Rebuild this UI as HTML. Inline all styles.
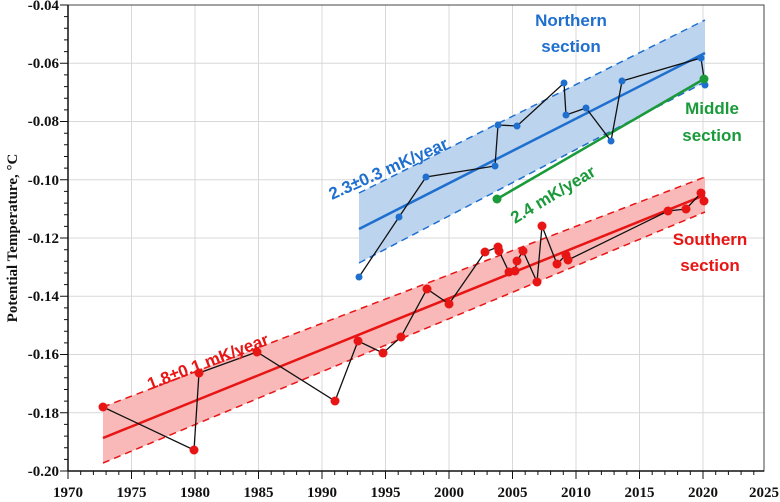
<!DOCTYPE html>
<html><head><meta charset="utf-8"><style>
html,body{margin:0;padding:0;background:#fff;}
svg{display:block;}
.t{font-family:"Liberation Serif",serif;font-weight:bold;font-size:15px;fill:#111;}
.l{font-family:"Liberation Sans",sans-serif;font-weight:bold;font-size:17px;}
</style></head><body>
<svg width="780" height="502" viewBox="0 0 780 502" xmlns="http://www.w3.org/2000/svg">
<g stroke="#d8d8d8" stroke-width="1">
<line x1="131.5" y1="5" x2="131.5" y2="471"/><line x1="195" y1="5" x2="195" y2="471"/><line x1="258.5" y1="5" x2="258.5" y2="471"/><line x1="322" y1="5" x2="322" y2="471"/><line x1="385.5" y1="5" x2="385.5" y2="471"/><line x1="449" y1="5" x2="449" y2="471"/><line x1="512.5" y1="5" x2="512.5" y2="471"/><line x1="576" y1="5" x2="576" y2="471"/><line x1="639.5" y1="5" x2="639.5" y2="471"/><line x1="703" y1="5" x2="703" y2="471"/>
<line x1="68" y1="63.3" x2="764" y2="63.3"/><line x1="68" y1="121.5" x2="764" y2="121.5"/><line x1="68" y1="179.8" x2="764" y2="179.8"/><line x1="68" y1="238" x2="764" y2="238"/><line x1="68" y1="296.3" x2="764" y2="296.3"/><line x1="68" y1="354.5" x2="764" y2="354.5"/><line x1="68" y1="412.8" x2="764" y2="412.8"/>
</g>
<rect x="68" y="5" width="696" height="466" fill="none" stroke="#444" stroke-width="1"/>
<polygon points="103,407 705,177 705,212 103,463" fill="#f9b9b9"/>
<polygon points="359,193 705,20 705,82 359,263" fill="#bcd4ee"/>
<g stroke-width="1.5" stroke-dasharray="7,5" fill="none">
<line x1="103" y1="407" x2="705" y2="177" stroke="#e81515"/>
<line x1="103" y1="463" x2="705" y2="212" stroke="#e81515"/>
<line x1="359" y1="193" x2="705" y2="20" stroke="#1f6fcf"/>
<line x1="359" y1="263" x2="705" y2="82" stroke="#1f6fcf"/>
</g>
<line x1="103" y1="438" x2="705" y2="195" stroke="#e81515" stroke-width="2.5"/>
<line x1="359" y1="229" x2="705" y2="53" stroke="#1f6fcf" stroke-width="2.5"/>
<line x1="497" y1="199" x2="704" y2="79" stroke="#1a9a3a" stroke-width="2.5"/>
<polyline fill="none" stroke="#111" stroke-width="1.3" points="103,407 194,450 199,373 257,352 335,401 358,341 383,353 401,337 427,289 449,304 485,252 498,247 499,251 509,272 515,271 517,261 523,251 537,282 542,226 557,264 566,255 568,260 668,211 686,209 701,193 704,201"/>
<polyline fill="none" stroke="#111" stroke-width="1.3" points="359,277 399,217 426,177 495,166 498,125 517,126 564,83 566,115 586,108 611,141 622,81 701,58 705,85"/>
<g fill="#e81515">
<circle cx="103" cy="407" r="4.5"/><circle cx="194" cy="450" r="4.5"/><circle cx="199" cy="373" r="4.5"/><circle cx="257" cy="352" r="4.5"/><circle cx="335" cy="401" r="4.5"/><circle cx="358" cy="341" r="4.5"/><circle cx="383" cy="353" r="4.5"/><circle cx="401" cy="337" r="4.5"/><circle cx="427" cy="289" r="4.5"/><circle cx="449" cy="304" r="4.5"/><circle cx="485" cy="252" r="4.5"/><circle cx="498" cy="247" r="4.5"/><circle cx="499" cy="251" r="4.5"/><circle cx="509" cy="272" r="4.5"/><circle cx="515" cy="271" r="4.5"/><circle cx="517" cy="261" r="4.5"/><circle cx="523" cy="251" r="4.5"/><circle cx="537" cy="282" r="4.5"/><circle cx="542" cy="226" r="4.5"/><circle cx="557" cy="264" r="4.5"/><circle cx="566" cy="255" r="4.5"/><circle cx="568" cy="260" r="4.5"/><circle cx="668" cy="211" r="4.5"/><circle cx="686" cy="209" r="4.5"/><circle cx="701" cy="193" r="4.5"/><circle cx="704" cy="201" r="4.5"/>
</g>
<g fill="#1f6fcf">
<circle cx="359" cy="277" r="3.5"/><circle cx="399" cy="217" r="3.5"/><circle cx="426" cy="177" r="3.5"/><circle cx="495" cy="166" r="3.5"/><circle cx="498" cy="125" r="3.5"/><circle cx="517" cy="126" r="3.5"/><circle cx="564" cy="83" r="3.5"/><circle cx="566" cy="115" r="3.5"/><circle cx="586" cy="108" r="3.5"/><circle cx="611" cy="141" r="3.5"/><circle cx="622" cy="81" r="3.5"/><circle cx="701" cy="58" r="3.5"/><circle cx="705" cy="85" r="3.5"/>
</g>
<g fill="#1a9a3a"><circle cx="497" cy="199" r="4.5"/><circle cx="704" cy="79" r="4.5"/></g>
<text class="l" fill="#1f6fcf" x="571" y="26" text-anchor="middle">Northern</text>
<text class="l" fill="#1f6fcf" x="571" y="52" text-anchor="middle">section</text>
<text class="l" fill="#1a9a3a" x="712" y="114" text-anchor="middle">Middle</text>
<text class="l" fill="#1a9a3a" x="712" y="141" text-anchor="middle">section</text>
<text class="l" fill="#e81515" x="710" y="245" text-anchor="middle">Southern</text>
<text class="l" fill="#e81515" x="710" y="271" text-anchor="middle">section</text>
<text class="l" fill="#1f6fcf" transform="translate(332,200) rotate(-24)">2.3±0.3 mK/year</text>
<text class="l" fill="#1a9a3a" transform="translate(515,224) rotate(-31)">2.4 mK/year</text>
<text class="l" fill="#e81515" transform="translate(150,390) rotate(-21)">1.8±0.1 mK/year</text>
<g stroke="#111" stroke-width="1.5">
<line x1="68" y1="471" x2="764" y2="471"/><line x1="68" y1="5" x2="68" y2="471"/>
</g>
<g class="t" text-anchor="middle">
<text x="68" y="497">1970</text><text x="131.5" y="497">1975</text><text x="195" y="497">1980</text><text x="258.5" y="497">1985</text><text x="322" y="497">1990</text><text x="385.5" y="497">1995</text><text x="449" y="497">2000</text><text x="512.5" y="497">2005</text><text x="576" y="497">2010</text><text x="639.5" y="497">2015</text><text x="703" y="497">2020</text><text x="764" y="497">2025</text>
</g>
<g class="t" text-anchor="end">
<text x="59" y="10">-0.04</text><text x="59" y="68">-0.06</text><text x="59" y="126">-0.08</text><text x="59" y="185">-0.10</text><text x="59" y="243">-0.12</text><text x="59" y="301">-0.14</text><text x="59" y="359">-0.16</text><text x="59" y="418">-0.18</text><text x="59" y="476">-0.20</text>
</g>
<text class="t" transform="translate(17,238) rotate(-90)" text-anchor="middle">Potential Temperature, °C</text>
<g stroke="#111" stroke-width="1">
<path d="M68,471v8M80.7,471v4M93.4,471v4M106.1,471v4M118.8,471v4M131.5,471v8M144.2,471v4M156.9,471v4M169.6,471v4M182.3,471v4M195,471v8M207.7,471v4M220.4,471v4M233.1,471v4M245.8,471v4M258.5,471v8M271.2,471v4M283.9,471v4M296.6,471v4M309.3,471v4M322,471v8M334.7,471v4M347.4,471v4M360.1,471v4M372.8,471v4M385.5,471v8M398.2,471v4M410.9,471v4M423.6,471v4M436.3,471v4M449,471v8M461.7,471v4M474.4,471v4M487.1,471v4M499.8,471v4M512.5,471v8M525.2,471v4M537.9,471v4M550.6,471v4M563.3,471v4M576,471v8M588.7,471v4M601.4,471v4M614.1,471v4M626.8,471v4M639.5,471v8M652.2,471v4M664.9,471v4M677.6,471v4M690.3,471v4M703,471v8M715.7,471v4M728.4,471v4M741.1,471v4M753.8,471v4"/>
<path d="M60,5h8M64,16.6h4M64,28.3h4M64,39.9h4M64,51.6h4M60,63.3h8M64,74.9h4M64,86.6h4M64,98.2h4M64,109.9h4M60,121.5h8M64,133.2h4M64,144.8h4M64,156.5h4M64,168.1h4M60,179.8h8M64,191.4h4M64,203.1h4M64,214.7h4M64,226.4h4M60,238h8M64,249.7h4M64,261.3h4M64,273h4M64,284.6h4M60,296.3h8M64,307.9h4M64,319.6h4M64,331.2h4M64,342.9h4M60,354.5h8M64,366.2h4M64,377.8h4M64,389.5h4M64,401.1h4M60,412.8h8M64,424.4h4M64,436.1h4M64,447.7h4M64,459.4h4M60,471h8"/>
</g>
</svg>
</body></html>
